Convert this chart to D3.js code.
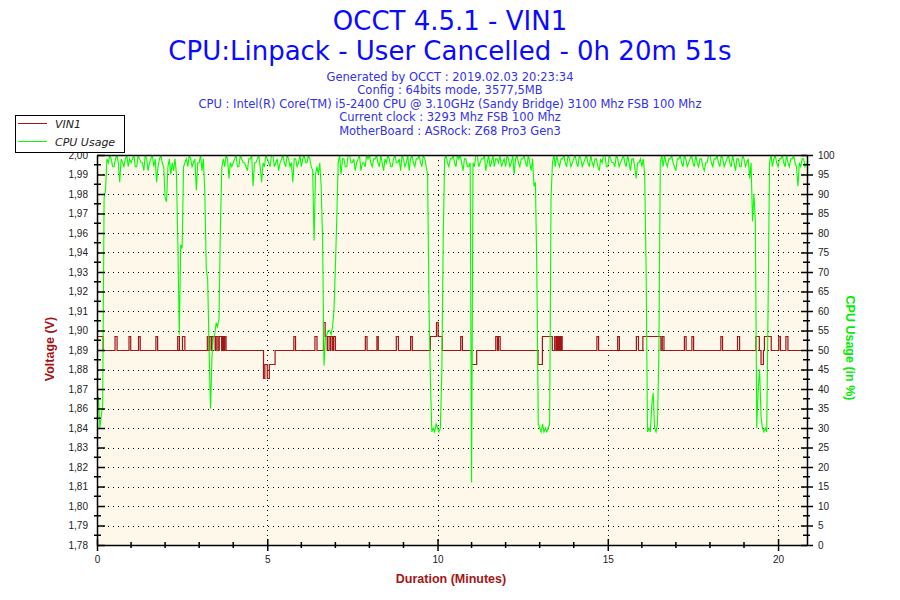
<!DOCTYPE html>
<html>
<head>
<meta charset="utf-8">
<script src="https://cdn.jsdelivr.net/npm/d3@7/dist/d3.min.js"></script>
<style>
  body { margin: 0; background: #fff; }
  text { font-family: "Liberation Sans", Arial, sans-serif; }
</style>
</head>
<body>
<div id="chart"></div>
<script>
// OCCT VIN1 / CPU usage chart

// Titles
const titleLines = ["OCCT 4.5.1 - VIN1", "CPU:Linpack - User Cancelled - 0h 20m 51s"];
const infoLines = [
  "Generated by OCCT : 2019.02.03 20:23:34",
  "Config : 64bits mode, 3577,5MB",
  "CPU : Intel(R) Core(TM) i5-2400 CPU @ 3.10GHz (Sandy Bridge) 3100 Mhz FSB 100 Mhz",
  "Current clock : 3293 Mhz FSB 100 Mhz",
  "MotherBoard : ASRock: Z68 Pro3 Gen3"
];

// Axis ticks
const voltTickLabels = ["1,78", "1,79", "1,80", "1,81", "1,82", "1,83", "1,84", "1,86", "1,87", "1,88",
  "1,89", "1,90", "1,91", "1,92", "1,93", "1,94", "1,96", "1,97", "1,98", "1,99", "2,00"];
const cpuTicks = [0, 5, 10, 15, 20, 25, 30, 35, 40, 45, 50, 55, 60, 65, 70, 75, 80, 85, 90, 95, 100];
const minuteTicks = [0, 5, 10, 15, 20];
const minuteMinor = [1, 2, 3, 4, 6, 7, 8, 9, 11, 12, 13, 14, 16, 17, 18, 19];
const durationMin = 20.85; // 0h 20m 51s

// VIN1 readings: [minute, volts] at each change
const vin1 = [
  [0, 1.898], [0.18, 1.890], [0.53, 1.898], [0.59, 1.890], [0.94, 1.898], [0.99, 1.890],
  [1.22, 1.898], [1.27, 1.890], [1.73, 1.898], [1.78, 1.890], [2.37, 1.898], [2.42, 1.890],
  [2.51, 1.898], [2.58, 1.890],
  [3.24, 1.898], [3.29, 1.890], [3.31, 1.898], [3.36, 1.890], [3.38, 1.898], [3.47, 1.890],
  [3.50, 1.898], [3.55, 1.890], [3.59, 1.898], [3.66, 1.890], [3.69, 1.898], [3.72, 1.890],
  [3.75, 1.898], [3.79, 1.890],
  [4.89, 1.874], [4.93, 1.882], [5.00, 1.874], [5.06, 1.882], [5.23, 1.890],
  [5.78, 1.898], [5.83, 1.890], [6.40, 1.898], [6.46, 1.890],
  [6.65, 1.906], [6.70, 1.898], [6.76, 1.890], [6.78, 1.898], [6.84, 1.890], [6.87, 1.898],
  [6.92, 1.890], [6.95, 1.898], [7.00, 1.890],
  [7.88, 1.898], [7.93, 1.890], [8.22, 1.898], [8.26, 1.890], [8.79, 1.898], [8.85, 1.890],
  [9.21, 1.898], [9.26, 1.890],
  [9.79, 1.898], [9.97, 1.906], [10.02, 1.898], [10.14, 1.890],
  [10.68, 1.898], [10.73, 1.890], [11.00, 1.882], [11.15, 1.890], [11.71, 1.898], [11.76, 1.890],
  [11.79, 1.898], [11.84, 1.890],
  [12.95, 1.882], [13.08, 1.898], [13.37, 1.890],
  [13.44, 1.898], [13.48, 1.890], [13.51, 1.898], [13.54, 1.890], [13.57, 1.898], [13.60, 1.890],
  [13.63, 1.898], [13.66, 1.890],
  [14.68, 1.898], [14.73, 1.890], [15.29, 1.898], [15.34, 1.890], [15.84, 1.898], [15.90, 1.890],
  [16.03, 1.898], [16.56, 1.890], [16.60, 1.898], [16.65, 1.890],
  [17.25, 1.898], [17.30, 1.890], [17.47, 1.898], [17.52, 1.890], [18.32, 1.898], [18.37, 1.890],
  [18.81, 1.898], [18.87, 1.890],
  [19.35, 1.898], [19.45, 1.890], [19.50, 1.882], [19.57, 1.890], [19.60, 1.898], [19.80, 1.890],
  [20.02, 1.898], [20.07, 1.890], [20.23, 1.898], [20.29, 1.890], [20.85, 1.890]
];

// CPU usage (%), one reading every 2.5 seconds (one row per minute)
const cpuSampleSec = 2.5;
const cpuUsage = [
  34, 38, 30, 33, 36, 89, 91, 99, 98, 100, 99, 97, 97, 99, 100, 98, 93, 99, 98, 97, 99, 100, 97, 99,
  98, 99, 100, 97, 97, 100, 99, 98, 98, 96, 100, 99, 96, 98, 99, 100, 97, 99, 93, 97, 99, 100, 98, 97,
  89, 88, 97, 99, 95, 98, 96, 99, 95, 77, 54, 77, 76, 97, 98, 99, 97, 100, 99, 97, 98, 99, 91, 98,
  98, 100, 96, 99, 90, 71, 68, 50, 35, 48, 53, 54, 57, 56, 58, 82, 97, 99, 97, 100, 99, 94, 98, 97,
  98, 99, 100, 97, 97, 100, 99, 98, 98, 97, 96, 99, 99, 100, 92, 98, 98, 99, 100, 97, 93, 98, 97, 100,
  99, 98, 97, 100, 100, 97, 98, 99, 96, 98, 99, 100, 98, 97, 100, 99, 97, 98, 93, 99, 99, 97, 98, 100,
  97, 99, 100, 98, 98, 100, 99, 97, 96, 78, 95, 97, 95, 98, 92, 78, 46, 53, 54, 55, 55, 54, 56, 60,
  71, 84, 98, 100, 95, 99, 99, 97, 97, 100, 100, 98, 98, 99, 96, 98, 99, 100, 96, 98, 98, 97, 100, 99,
  100, 98, 97, 99, 99, 100, 98, 97, 100, 98, 96, 99, 98, 100, 99, 97, 97, 99, 100, 98, 98, 99, 96, 100,
  99, 97, 98, 100, 96, 99, 100, 98, 97, 99, 99, 100, 98, 97, 100, 99, 97, 95, 61, 42, 29, 30, 29, 31,
  30, 29, 30, 44, 78, 99, 100, 98, 97, 99, 99, 100, 98, 97, 100, 99, 100, 98, 96, 99, 99, 97, 97, 98,
  16, 98, 97, 100, 100, 97, 98, 99, 99, 100, 96, 98, 100, 97, 98, 100, 97, 99, 99, 98, 100, 97, 98, 99,
  97, 100, 99, 97, 98, 100, 95, 99, 100, 98, 97, 99, 99, 100, 98, 97, 100, 98, 96, 99, 92, 93, 70, 31,
  30, 29, 31, 29, 30, 29, 30, 31, 89, 98, 100, 97, 100, 98, 97, 99, 99, 100, 98, 97, 100, 99, 97, 98,
  99, 100, 98, 97, 100, 99, 97, 98, 99, 100, 98, 97, 100, 98, 97, 99, 99, 97, 96, 99, 98, 100, 100, 97,
  97, 100, 99, 98, 98, 97, 100, 99, 97, 98, 99, 100, 98, 97, 100, 98, 96, 99, 99, 97, 94, 98, 98, 99,
  97, 99, 95, 71, 29, 30, 29, 36, 39, 30, 29, 31, 49, 98, 100, 97, 100, 98, 97, 99, 99, 100, 98, 97,
  96, 99, 99, 100, 98, 97, 100, 99, 97, 98, 99, 100, 98, 97, 100, 98, 97, 99, 99, 97, 96, 98, 98, 100,
  100, 98, 97, 99, 99, 100, 98, 97, 100, 99, 97, 98, 99, 100, 98, 97, 100, 98, 96, 99, 99, 97, 97, 100,
  99, 97, 98, 99, 94, 98, 83, 90, 83, 30, 40, 45, 33, 30, 29, 30, 29, 62, 98, 100, 97, 99, 100, 98,
  97, 99, 99, 100, 98, 97, 100, 98, 97, 99, 99, 100, 98, 97, 92, 98, 97, 99, 99, 97, 98
];

const width = 900, height = 600;
const plot = { left: 97, right: 807, top: 155, bottom: 545 };

const svg = d3.select("#chart").append("svg")
  .attr("width", width)
  .attr("height", height);

// Scales
const x = d3.scaleLinear().domain([0, durationMin]).range([plot.left, plot.right]);
const yV = d3.scaleLinear().domain([1.78, 2.00]).range([plot.bottom, plot.top]);
const yC = d3.scaleLinear().domain([0, 100]).range([plot.bottom, plot.top]);

// voltage ticks are evenly spaced, labels are rounded by OCCT
const voltTicks = voltTickLabels.map((d, i) => 1.78 + i * 0.22 / (voltTickLabels.length - 1));
const voltMinor = voltTicks.slice(1).map((d, i) => (d + voltTicks[i]) / 2);
const cpuMinor = cpuTicks.slice(1).map(d => d - 2.5);

// Titles
svg.selectAll(".title")
  .data(titleLines)
  .enter()
  .append("text")
  .attr("class", "title")
  .attr("x", 450)
  .attr("y", (d, i) => 30 + i * 30)
  .attr("text-anchor", "middle")
  .style("font-family", "'DejaVu Sans', Verdana, sans-serif")
  .style("font-size", "26px")
  .attr("fill", "#0a0aff")
  .text(d => d);

svg.selectAll(".info")
  .data(infoLines)
  .enter()
  .append("text")
  .attr("class", "info")
  .attr("x", 450)
  .attr("y", (d, i) => 81 + i * 13.4)
  .attr("text-anchor", "middle")
  .style("font-family", "'DejaVu Sans', Verdana, sans-serif")
  .style("font-size", "11.5px")
  .attr("fill", "#3232ea")
  .text(d => d);

// Plot background
svg.append("rect")
  .attr("x", plot.left)
  .attr("y", plot.top)
  .attr("width", plot.right - plot.left)
  .attr("height", plot.bottom - plot.top)
  .attr("fill", "#fdf8ea");

// Grid
svg.append("g")
  .selectAll("line")
  .data(voltTicks.slice(1, -1))
  .enter()
  .append("line")
  .attr("x1", plot.left + 1)
  .attr("x2", plot.right)
  .attr("y1", d => Math.round(yV(d)) + 0.5)
  .attr("y2", d => Math.round(yV(d)) + 0.5)
  .attr("stroke", "#000")
  .attr("stroke-dasharray", "1,4");

svg.append("g")
  .selectAll("line")
  .data(minuteTicks.slice(1))
  .enter()
  .append("line")
  .attr("x1", d => Math.round(x(d)) + 0.5)
  .attr("x2", d => Math.round(x(d)) + 0.5)
  .attr("y1", plot.top)
  .attr("y2", plot.bottom)
  .attr("stroke", "#000")
  .attr("stroke-dasharray", "1,4");

// Series
svg.append("clipPath").attr("id", "clip")
  .append("rect")
  .attr("x", plot.left)
  .attr("y", plot.top)
  .attr("width", plot.right - plot.left)
  .attr("height", plot.bottom - plot.top);

const voltLine = d3.line()
  .x(d => x(d[0]))
  .y(d => Math.round(yV(d[1])) + 0.5)
  .curve(d3.curveStepAfter);

svg.append("path")
  .datum(vin1)
  .attr("clip-path", "url(#clip)")
  .attr("fill", "none")
  .attr("stroke", "#a31515")
  .attr("stroke-width", 1.2)
  .attr("d", voltLine);

const cpuLine = d3.line()
  .x((d, i) => x(i * cpuSampleSec / 60))
  .y(d => yC(d));

svg.append("path")
  .datum(cpuUsage)
  .attr("clip-path", "url(#clip)")
  .attr("fill", "none")
  .attr("stroke", "#00ff00")
  .attr("stroke-width", 1.1)
  .attr("d", cpuLine);

// Top border
svg.append("line")
  .attr("x1", plot.left)
  .attr("x2", plot.right)
  .attr("y1", plot.top + 0.5)
  .attr("y2", plot.top + 0.5)
  .attr("stroke", "#000")
  .attr("stroke-width", 1.5);

// Axes
function styleAxis(g) {
  g.select(".domain").attr("stroke", "#000").attr("stroke-width", 1.5);
  g.selectAll(".tick line").attr("stroke", "#000").attr("stroke-width", 1.5);
  g.selectAll(".tick text")
    .attr("fill", "#222")
    .style("font-family", "'Liberation Sans', Arial, sans-serif")
    .style("font-size", "10px");
}

const leftAxis = svg.append("g")
  .attr("transform", `translate(${plot.left},0)`)
  .call(d3.axisLeft(yV)
    .tickValues(voltTicks)
    .tickFormat((d, i) => voltTickLabels[i])
    .tickSize(0)
    .tickPadding(9));
leftAxis.selectAll(".tick line").attr("x1", 0).attr("x2", 8);
styleAxis(leftAxis);

leftAxis.selectAll(".minor")
  .data(voltMinor)
  .enter()
  .append("line")
  .attr("x1", -3)
  .attr("x2", 4)
  .attr("y1", d => yV(d))
  .attr("y2", d => yV(d))
  .attr("stroke", "#000")
  .attr("stroke-width", 1.5);

const rightAxis = svg.append("g")
  .attr("transform", `translate(${plot.right},0)`)
  .call(d3.axisRight(yC)
    .tickValues(cpuTicks)
    .tickSize(0)
    .tickPadding(11));
rightAxis.selectAll(".tick line").attr("x1", -6).attr("x2", 6);
styleAxis(rightAxis);

rightAxis.selectAll(".minor")
  .data(cpuMinor)
  .enter()
  .append("line")
  .attr("x1", -4)
  .attr("x2", 3)
  .attr("y1", d => yC(d))
  .attr("y2", d => yC(d))
  .attr("stroke", "#000")
  .attr("stroke-width", 1.5);

const bottomAxis = svg.append("g")
  .attr("transform", `translate(0,${plot.bottom})`)
  .call(d3.axisBottom(x)
    .tickValues(minuteTicks)
    .tickFormat(d3.format("d"))
    .tickSize(0)
    .tickPadding(11));
bottomAxis.selectAll(".tick line").attr("y1", -6).attr("y2", 6);
styleAxis(bottomAxis);

bottomAxis.selectAll(".minor")
  .data(minuteMinor)
  .enter()
  .append("line")
  .attr("x1", d => x(d))
  .attr("x2", d => x(d))
  .attr("y1", -3)
  .attr("y2", 3)
  .attr("stroke", "#000")
  .attr("stroke-width", 1.5);

// Axis titles
svg.append("text")
  .attr("transform", "translate(54,349) rotate(-90)")
  .attr("text-anchor", "middle")
  .style("font-size", "12.5px")
  .style("font-weight", "bold")
  .attr("fill", "#a31515")
  .text("Voltage (V)");

svg.append("text")
  .attr("transform", "translate(846,348) rotate(90)")
  .attr("text-anchor", "middle")
  .style("font-size", "12.5px")
  .style("font-weight", "bold")
  .attr("fill", "#00ee00")
  .text("CPU Usage (in %)");

svg.append("text")
  .attr("x", 451)
  .attr("y", 583)
  .attr("text-anchor", "middle")
  .style("font-size", "12.5px")
  .style("font-weight", "bold")
  .attr("fill", "#a31515")
  .text("Duration (Minutes)");

// Legend
const legendItems = [
  { name: "VIN1", color: "#a31515" },
  { name: "CPU Usage", color: "#00ff00" }
];

const legend = svg.append("g").attr("transform", "translate(15,115)");
legend.append("rect")
  .attr("x", 0.5)
  .attr("y", 0.5)
  .attr("width", 109)
  .attr("height", 37)
  .attr("fill", "#fff")
  .attr("stroke", "#000");

const legendRow = legend.selectAll(".legend-row")
  .data(legendItems)
  .enter()
  .append("g")
  .attr("transform", (d, i) => `translate(0,${8.5 + i * 18})`);

legendRow.append("line")
  .attr("x1", 3)
  .attr("x2", 32)
  .attr("stroke", d => d.color);

legendRow.append("text")
  .attr("x", 40)
  .attr("y", 4)
  .style("font-family", "'DejaVu Sans', Verdana, sans-serif")
  .style("font-size", "11px")
  .style("font-style", "italic")
  .attr("fill", "#222")
  .text(d => d.name);
</script>
</body>
</html>
